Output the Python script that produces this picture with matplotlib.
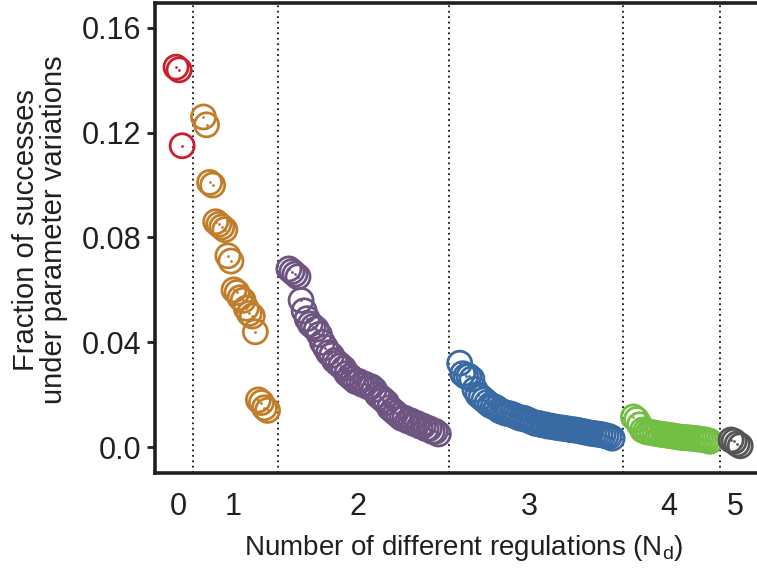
import matplotlib
matplotlib.use("Agg")
import matplotlib.pyplot as plt
import numpy as np

plt.rcParams["font.family"] = ["Liberation Sans", "DejaVu Sans"]
plt.rcParams["mathtext.default"] = "regular"

# fraction of successes per network, grouped by number of regulations N_d
red = [0.145, 0.144, 0.115]
orange = [0.126, 0.123, 0.101, 0.100, 0.086, 0.085, 0.084, 0.083, 0.073, 0.071,
          0.060, 0.059, 0.057, 0.056, 0.053, 0.051, 0.050, 0.044, 0.018, 0.017,
          0.015, 0.014]
purple = [0.068, 0.067, 0.066, 0.065, 0.056, 0.052, 0.049, 0.047, 0.046, 0.045,
          0.043, 0.040, 0.038, 0.036, 0.035, 0.033, 0.032, 0.031, 0.030, 0.028,
          0.027, 0.026, 0.025, 0.025, 0.024, 0.024, 0.023, 0.023, 0.022, 0.020,
          0.019, 0.018, 0.017, 0.015, 0.014, 0.013, 0.012, 0.011, 0.011, 0.010,
          0.010, 0.009, 0.009, 0.008, 0.008, 0.007, 0.007, 0.006, 0.006, 0.005]
blue = [0.032, 0.028, 0.027, 0.027, 0.026, 0.022, 0.020, 0.019, 0.018, 0.017,
        0.016, 0.0155, 0.015, 0.014, 0.0135, 0.013, 0.0128, 0.0125, 0.012, 0.0115,
        0.011, 0.011, 0.0105, 0.010, 0.0095, 0.009, 0.009, 0.0085, 0.0085, 0.008,
        0.008, 0.0077, 0.0075, 0.0073, 0.0072, 0.007, 0.0068, 0.0066, 0.0065, 0.0063,
        0.006, 0.0058, 0.0055, 0.0053, 0.0051, 0.005, 0.0048, 0.0046, 0.0043, 0.004,
        0.0034]
green = [0.0115, 0.0105, 0.0085, 0.0065, 0.006, 0.0057, 0.0055, 0.0053, 0.0051,
         0.0049, 0.0047, 0.0046, 0.0044, 0.0042, 0.004, 0.0038, 0.0037, 0.0036,
         0.0035, 0.0034, 0.0033, 0.0031, 0.003, 0.0028, 0.0026, 0.0022]
gray = [0.0027, 0.0022, 0.0012, 0.0005]

groups = [red, orange, purple, blue, green, gray]
group_labels = ["0", "1", "2", "3", "4", "5"]
colors = ["#C8202E", "#C07E2B", "#6E5480", "#3A6AA3", "#72BF44", "#555555"]
y_ticks = [0.0, 0.04, 0.08, 0.12, 0.16]
y_tick_labels = ["0.0", "0.04", "0.08", "0.12", "0.16"]

GAP = 7  # index gap between groups

fig = plt.figure(figsize=(7.57, 5.78), dpi=100)
ax = fig.add_axes([155 / 757, 1 - 473 / 578, 1 - 155 / 757, (473 - 3) / 578])

start = 0
centers, seps = [], []
for k, (vals, col) in enumerate(zip(groups, colors)):
    x = start + np.arange(len(vals))
    ax.scatter(x, vals, s=4, color=col, zorder=2, linewidths=0)
    ax.scatter(x, vals, s=300, facecolors="none", edgecolors=col,
               linewidths=2.0, zorder=3)
    centers.append(x.mean() - 0.04 * len(vals))
    if k < len(groups) - 1:
        seps.append(x[-1] + GAP / 2)
    start = x[-1] + GAP

for s in seps:
    ax.axvline(s, color="#111111", lw=1.3, ls=(0, (1, 2)), zorder=1)

ax.set_xlim(-6.9, 190.5)
ax.set_ylim(-0.0099, 0.1695)
ax.set_xticks(centers)
ax.set_xticklabels(group_labels)
ax.set_yticks(y_ticks)
ax.set_yticklabels(y_tick_labels)
ax.tick_params(axis="x", length=0, pad=14, labelsize=22, colors="#231f20")
ax.tick_params(axis="y", length=6, width=2, pad=4, labelsize=22, colors="#231f20")
for side in ("left", "bottom", "top"):
    ax.spines[side].set_linewidth(2.6)
    ax.spines[side].set_color("#231f20")
ax.spines["right"].set_visible(False)

fig.text(40 / 757, 1 - 230 / 578, "Fraction of successes\nunder parameter variations",
         rotation=90, ha="center", va="center", fontsize=21, color="#231f20",
         linespacing=1.0)
fig.text(464 / 757, 1 - 548 / 578, "Number of different regulations (N$_{d}$)",
         ha="center", va="center", fontsize=20, color="#231f20")

fig.savefig("out.png", dpi=100)
